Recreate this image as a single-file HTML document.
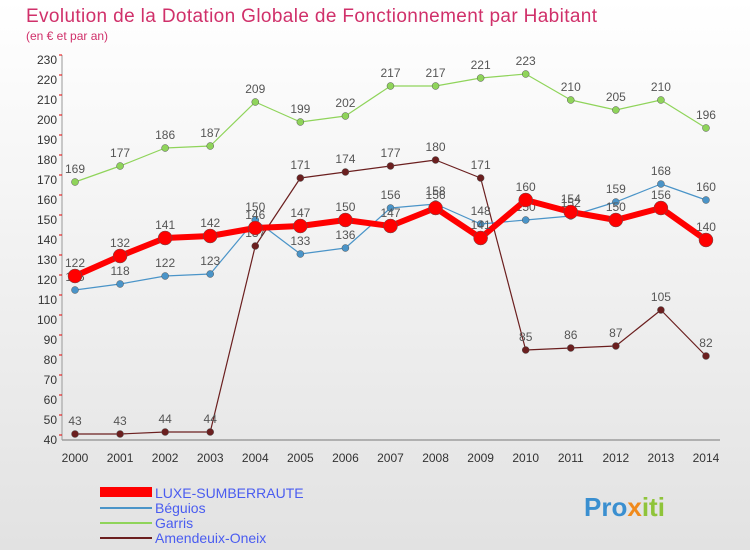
<!DOCTYPE html>
<html><head><meta charset="utf-8"><style>
body{margin:0;width:750px;height:550px;overflow:hidden;font-family:"Liberation Sans",sans-serif;background:#fff}
svg text{font-family:"Liberation Sans",sans-serif}
</style></head><body>
<svg id="c" width="750" height="550">
<defs><linearGradient id="bg" x1="0" y1="0" x2="0" y2="1"><stop offset="0" stop-color="#ffffff"/><stop offset="1" stop-color="#e2e2e2"/></linearGradient></defs>
<rect width="750" height="550" fill="url(#bg)"/>
<text x="26" y="22" font-size="19" textLength="571" fill="#d0306a">Evolution de la Dotation Globale de Fonctionnement par Habitant</text>
<text x="26" y="40" font-size="12" fill="#d0306a">(en € et par an)</text>
<g id="axes"></g><g id="series"></g>
<g>
<rect x="100" y="487" width="52" height="10" fill="#ff0000"/>
<text x="155" y="498" font-size="14" fill="#4a5cf0">LUXE-SUMBERRAUTE</text>
<line x1="100" y1="508" x2="152" y2="508" stroke="#4a94c8" stroke-width="2"/>
<text x="155" y="513" font-size="14" fill="#4a5cf0">Béguios</text>
<line x1="100" y1="523" x2="152" y2="523" stroke="#8fd45a" stroke-width="2"/>
<text x="155" y="528" font-size="14" fill="#4a5cf0">Garris</text>
<line x1="100" y1="538" x2="152" y2="538" stroke="#6b1f1f" stroke-width="2"/>
<text x="155" y="543" font-size="14" fill="#4a5cf0">Amendeuix-Oneix</text>
</g>
<text x="584" y="516" font-size="26" font-weight="bold" fill="#3a8fd0">Pro<tspan fill="#f08a1c">x</tspan><tspan fill="#8fc43a">iti</tspan></text>
</svg>
<script>
const years=[2000,2001,2002,2003,2004,2005,2006,2007,2008,2009,2010,2011,2012,2013,2014];
const yTicks=[40,50,60,70,80,90,100,110,120,130,140,150,160,170,180,190,200,210,220,230];
const luxe=[122,132,141,142,146,147,150,147,156,141,160,154,150,156,140];
const beguios=[115,118,122,123,150,133,136,156,158,148,150,152,159,168,160];
const garris=[169,177,186,187,209,199,202,217,217,221,223,210,205,210,196];
const amendeuix=[43,43,44,44,137,171,174,177,180,171,85,86,87,105,82];
const NS="http://www.w3.org/2000/svg";
const xS=i=>75+i*45.07, yS=v=>440-(v-40)*2;
function mk(t,a,p){const e=document.createElementNS(NS,t);for(const k in a)e.setAttribute(k,a[k]);p.appendChild(e);return e;}
const ax=document.getElementById('axes'), sg=document.getElementById('series');
let l=mk('line',{x1:62,y1:440,x2:720,y2:440,stroke:'#777'},ax);


l=mk('line',{x1:62,y1:55,x2:62,y2:440,stroke:'#999'},ax);


yTicks.forEach(v=>{const t=mk('text',{x:57,y:yS(v)+4,'font-size':12,'text-anchor':'end',fill:'#333'},ax);t.textContent=v;


const d=mk('line',{x1:59,y1:yS(v)-5,x2:62,y2:yS(v)-5,stroke:'#e00'},ax);

});
years.forEach((y,i)=>{const t=mk('text',{x:xS(i),y:462,'font-size':12,'text-anchor':'middle',fill:'#333'},ax);t.textContent=y;

});
function series(name,data,color,w,r){const g=mk('g',{},sg);


const p=mk('polyline',{points:data.map((v,i)=>xS(i)+','+yS(v)).join(' '),fill:'none',stroke:color,'stroke-width':w,'stroke-linejoin':'round'},g);


data.forEach((v,i)=>{const c=mk('circle',{cx:xS(i),cy:yS(v),r:r,fill:color,stroke:'#555','stroke-width':0.5},g);


const t=mk('text',{x:xS(i),y:yS(v)-9,'font-size':12,'text-anchor':'middle',fill:'#555'},g);t.textContent=v;

});}
series('amendeuix',amendeuix,'#6b1f1f',1.2,3.5);
series('garris',garris,'#8fd45a',1.2,3.5);
series('beguios',beguios,'#4a94c8',1.2,3.5);
series('luxe',luxe,'#ff0000',6,7);
</script>
</body></html>
